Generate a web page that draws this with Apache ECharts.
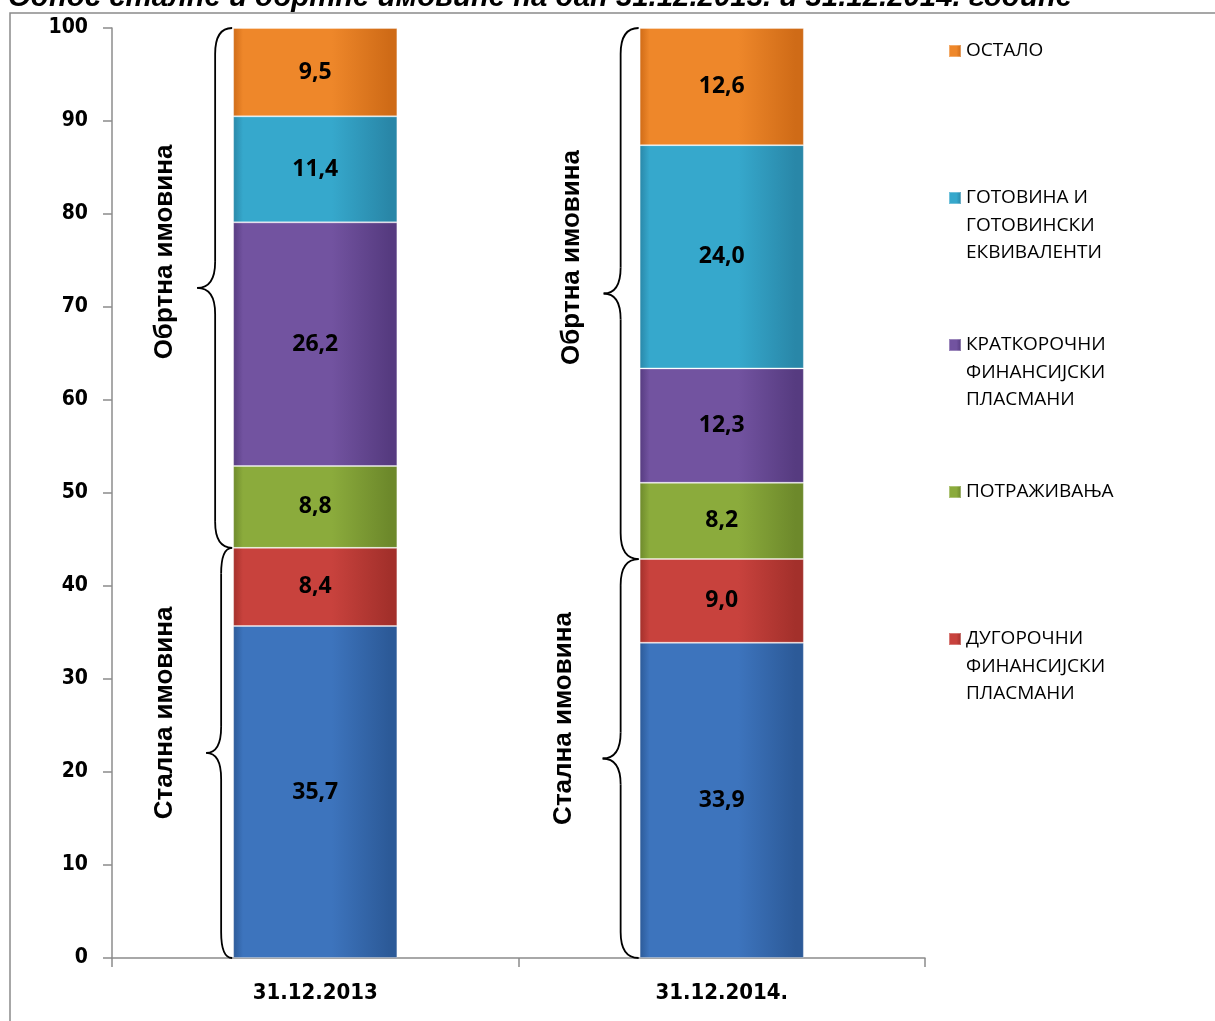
<!DOCTYPE html>
<html>
<head>
<meta charset="utf-8">
<script src="https://cdn.jsdelivr.net/npm/echarts@6/dist/echarts.min.js"></script>
<style>
html,body{margin:0;padding:0;background:#fff;}
#c{width:1215px;height:1021px;}
</style>
</head>
<body>
<div id="c"></div>
<script>
// ---- data ----
const titleText = 'Однос сталне и обртне имовине на дан 31.12.2013. и 31.12.2014. године';
const categories = ['31.12.2013', '31.12.2014.'];
const seriesNames = ['ОСНОВНА СРЕДСТВА', 'ДУГОРОЧНИ\nФИНАНСИЈСКИ\nПЛАСМАНИ', 'ПОТРАЖИВАЊА', 'КРАТКОРОЧНИ\nФИНАНСИЈСКИ\nПЛАСМАНИ', 'ГОТОВИНА И\nГОТОВИНСКИ\nЕКВИВАЛЕНТИ', 'ОСТАЛО'];
const fixedAssets = [35.7, 33.9];
const longTermPlacements = [8.4, 9.0];
const receivables = [8.8, 8.2];
const shortTermPlacements = [26.2, 12.3];
const cash = [11.4, 24.0];
const other = [9.5, 12.6];
const yTicks = [0, 10, 20, 30, 40, 50, 60, 70, 80, 90, 100];
const braceLabels = ['Обртна имовина', 'Стална имовина'];

const seriesData = [fixedAssets, longTermPlacements, receivables, shortTermPlacements, cash, other];
const colors = [
  ['#3d74bd', '#2c5a98'],
  ['#c8423d', '#a3302b'],
  ['#8bab3c', '#6d892b'],
  ['#7253a0', '#563b80'],
  ['#36a8cc', '#2987a8'],
  ['#ee872a', '#cf6b17']
];
const legendOrder = [5, 4, 3, 2, 1]; // top to bottom
const legendTops = [45, 192, 339, 486, 633];

function grad(c) {
  return new echarts.graphic.LinearGradient(0, 0, 1, 0, [
    {offset: 0, color: c[1]}, {offset: 0.06, color: c[0]}, {offset: 0.6, color: c[0]}, {offset: 0.95, color: c[1]}, {offset: 1, color: c[1]}
  ]);
}
const fmt = v => v.toFixed(1).replace('.', ',');

const chart = echarts.init(document.getElementById('c'), null, {renderer: 'canvas'});

const LH = 27.5;
const legends = legendOrder.map((si, k) => {
  const lines = seriesNames[si].split('\n').length;
  const boxTop = 6 - ((2 * lines - 1) * LH) / 2;
  return {
    orient: 'vertical', left: 948, top: legendTops[k] + boxTop, padding: 0,
    itemWidth: 12, itemHeight: 12, itemGap: 0,
    selectedMode: false,
    data: [{name: seriesNames[si], icon: 'rect'}],
    formatter: name => '\n'.repeat(name.split('\n').length - 1) + name,
    textStyle: {fontSize: 19, lineHeight: LH, color: '#000', fontFamily: "'Open Sans', 'Noto Sans', sans-serif"}
  };
});

const axisFont = "'Liberation Sans Narrow', 'DejaVu Sans Condensed', sans-serif";
const option = {
  animation: false,
  backgroundColor: '#fff',
  title: {
    text: titleText, left: 8, top: -17, padding: 0,
    textStyle: {fontSize: 29.4, fontWeight: 'bold', fontStyle: 'italic', color: '#000', fontFamily: "'Liberation Sans', Arial, sans-serif"}
  },
  legend: legends,
  grid: {left: 112, right: 290, top: 28, bottom: 63, containLabel: false},
  xAxis: {
    type: 'category', data: categories,
    axisLine: {lineStyle: {color: '#8c8c8c', width: 1.5}},
    axisTick: {show: true, alignWithLabel: false, length: 9, lineStyle: {color: '#8c8c8c', width: 1.5}},
    axisLabel: {margin: 24, fontSize: 22, fontWeight: 'bold', color: '#000', fontFamily: axisFont}
  },
  yAxis: {
    type: 'value', min: yTicks[0], max: yTicks[yTicks.length - 1], interval: 10,
    splitLine: {show: false},
    axisLine: {show: true, lineStyle: {color: '#8c8c8c', width: 1.5}},
    axisTick: {show: true, length: 9, lineStyle: {color: '#8c8c8c', width: 1.5}},
    axisLabel: {margin: 24, fontSize: 21, fontWeight: 'bold', color: '#000', fontFamily: axisFont}
  },
  series: seriesData.map((d, i) => ({
    name: seriesNames[i], type: 'bar', stack: 'total', barWidth: '40.4%',
    data: d,
    itemStyle: {color: grad(colors[i]), borderColor: 'rgba(255,255,255,0.3)', borderWidth: 1},
    label: {show: true, position: 'inside', formatter: p => fmt(p.value), fontSize: 23, fontWeight: 'bold', color: '#000', fontFamily: "'Noto Sans', 'Open Sans', sans-serif"}
  }))
};
chart.setOption(option);

// braces computed from data through the axes
const graphics = [{
  type: 'rect', shape: {x: 10, y: 13, width: 1400, height: 1200}, style: {fill: 'none', stroke: '#8a8a8a', lineWidth: 1.5}, silent: true, z: -1
}];
const strokeStyle = {stroke: '#000', lineWidth: 1.8, fill: 'none'};
function q(x1, y1, cx, cy, x2, y2) {
  graphics.push({type: 'bezierCurve', shape: {x1, y1, x2, y2, cpx1: cx, cpy1: cy}, style: strokeStyle, silent: true, z: 10});
}
function l(x1, y1, x2, y2) {
  graphics.push({type: 'line', shape: {x1, y1, x2, y2}, style: strokeStyle, silent: true, z: 10});
}
function brace(xe, xs, xt, y1, y2) {
  const ym = (y1 + y2) / 2;
  const r = Math.min(26, (y2 - y1) / 6);
  q(xe, y1, xs, y1, xs, y1 + r);
  l(xs, y1 + r, xs, ym - r);
  q(xs, ym - r, xs, ym, xt, ym);
  q(xt, ym, xs, ym, xs, ym + r);
  l(xs, ym + r, xs, y2 - r);
  q(xs, y2 - r, xs, y2, xe, y2);
}
const barW = chart.getModel().getComponent('xAxis', 0).axis.getBandWidth() * 0.404;
categories.forEach((cat, ci) => {
  const fixedTop = fixedAssets[ci] + longTermPlacements[ci];
  const total = seriesData.reduce((a, d) => a + d[ci], 0);
  const cx = chart.convertToPixel({xAxisIndex: 0}, cat);
  const left = cx - barW / 2 - 1;
  const yTop = chart.convertToPixel({yAxisIndex: 0}, total);
  const yMid = chart.convertToPixel({yAxisIndex: 0}, fixedTop);
  const y0 = chart.convertToPixel({yAxisIndex: 0}, 0);
  const specs = [
    {y1: yTop, y2: yMid, ds: ci === 0 ? 17 : 18, dt: 35, tx: 67, ty: 36, label: braceLabels[0]},
    {y1: yMid, y2: y0, ds: ci === 0 ? 11 : 18, dt: ci === 0 ? 26 : 36, tx: ci === 0 ? 67 : 75, ty: 40, label: braceLabels[1]}
  ];
  specs.forEach(s => {
    brace(left, left - s.ds, left - s.dt, s.y1, s.y2);
    graphics.push({type: 'text', x: left - s.tx, y: (s.y1 + s.y2) / 2 - s.ty, rotation: Math.PI / 2,
      style: {text: s.label, font: "bold 26px 'Liberation Sans', Arial, sans-serif", fill: '#000', align: 'center', verticalAlign: 'middle'}, silent: true, z: 10});
  });
});
chart.setOption({graphic: graphics});
</script>
</body>
</html>
